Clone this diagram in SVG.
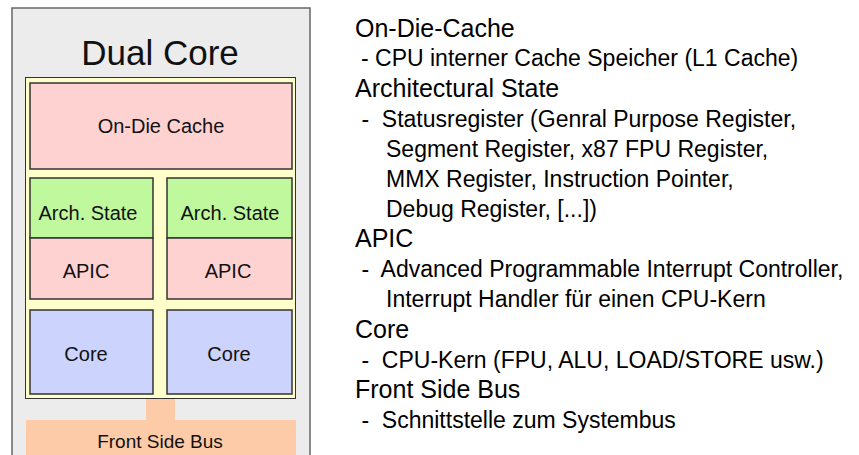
<svg xmlns="http://www.w3.org/2000/svg" width="859" height="455" viewBox="0 0 859 455">
<style>
.box{stroke:#333;stroke-width:1.5}
.pink{fill:#ffd2d2}
.green{fill:#c0f89e}
.blue{fill:#ccd3fd}
.peach{fill:#fdcba8}
.lbl{font-family:"Liberation Sans",Arial,sans-serif;font-size:20px;fill:#111;text-anchor:middle}
.h{font-family:"Liberation Sans",Arial,sans-serif;font-size:25px;fill:#000}
.s{font-family:"Liberation Sans",Arial,sans-serif;font-size:23px;fill:#000}
</style>
<rect width="859" height="455" fill="#fff"/>
<g id="dualcore">
<rect x="12" y="8" width="298" height="460" fill="#ececec" stroke="#666" stroke-width="1.5"/>
<text x="160" y="65" class="lbl" style="font-size:35px">Dual Core</text>
</g>
<g id="die">
<rect x="25.5" y="77.5" width="270" height="321" fill="#ffffcc" stroke="#333" stroke-width="1"/>
</g>
<g id="cache">
<rect x="30" y="83" width="262" height="86" class="box pink"/>
<text x="161" y="133" class="lbl">On-Die Cache</text>
</g>
<g id="arch1">
<rect x="30" y="178" width="123" height="60" class="box green"/>
<text x="88" y="220" class="lbl">Arch. State</text>
</g>
<g id="arch2">
<rect x="167" y="178" width="125" height="60" class="box green"/>
<text x="230" y="220" class="lbl">Arch. State</text>
</g>
<g id="apic1">
<rect x="30" y="238" width="123" height="61" class="box pink"/>
<text x="86" y="278" class="lbl">APIC</text>
</g>
<g id="apic2">
<rect x="167" y="238" width="125" height="61" class="box pink"/>
<text x="228" y="278" class="lbl">APIC</text>
</g>
<g id="core1">
<rect x="30" y="310" width="123" height="84" class="box blue"/>
<text x="86" y="361" class="lbl">Core</text>
</g>
<g id="core2">
<rect x="167" y="310" width="125" height="84" class="box blue"/>
<text x="229" y="361" class="lbl">Core</text>
</g>
<g id="connectors">
<rect x="146" y="399" width="29" height="22" class="peach"/>
</g>
<g id="fsb">
<rect x="26" y="420" width="270" height="40" class="peach"/>
<text x="160" y="448" class="lbl" style="font-size:19px">Front Side Bus</text>
</g>
<g id="legend">
<text x="355" y="37" class="h">On-Die-Cache</text>
<text x="361" y="66" class="s">- CPU interner Cache Speicher (L1 Cache)</text>
<text x="355" y="97" class="h">Architectural State</text>
<text x="355" y="127" class="s" xml:space="preserve"> -  Statusregister (Genral Purpose Register,</text>
<text x="386" y="157" class="s">Segment Register, x87 FPU Register,</text>
<text x="386" y="187" class="s">MMX Register, Instruction Pointer,</text>
<text x="386" y="217" class="s">Debug Register, [...])</text>
<text x="355" y="247" class="h">APIC</text>
<text x="355" y="277" class="s" xml:space="preserve"> -  Advanced Programmable Interrupt Controller,</text>
<text x="386" y="307" class="s">Interrupt Handler für einen CPU-Kern</text>
<text x="355" y="338" class="h">Core</text>
<text x="355" y="368" class="s" xml:space="preserve"> -  CPU-Kern (FPU, ALU, LOAD/STORE usw.)</text>
<text x="355" y="398" class="h">Front Side Bus</text>
<text x="355" y="428" class="s" xml:space="preserve"> -  Schnittstelle zum Systembus</text>
</g>
</svg>
